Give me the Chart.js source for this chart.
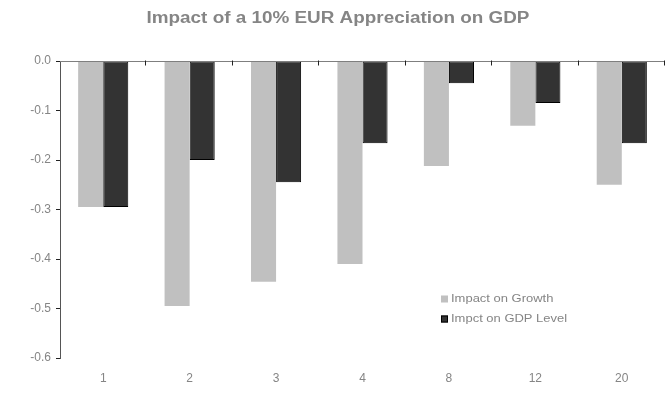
<!DOCTYPE html>
<html>
<head>
<meta charset="utf-8">
<script src="https://cdn.jsdelivr.net/npm/chart.js@4.4.1/dist/chart.umd.min.js"></script>
<style>
  html, body { margin: 0; padding: 0; background: #fff; }
  #wrap { width: 668px; height: 396px; }
</style>
</head>
<body>
<div id="wrap"><canvas id="gdpChart"></canvas></div>
<script>
// Horizonte (trimestres) y efectos estimados
const horizons = ['1', '2', '3', '4', '8', '12', '20'];
const growthImpact = [-0.295, -0.495, -0.446, -0.41, -0.212, -0.131, -0.25];
const levelImpact = [-0.295, -0.2, -0.245, -0.166, -0.045, -0.085, -0.166];
const yTicks = [0, -0.1, -0.2, -0.3, -0.4, -0.5, -0.6];
const chartTitle = 'Impact of a 10% EUR Appreciation on GDP';

const GRAY_TEXT = '#858585';
const FONT = 'Arial, "Liberation Sans", sans-serif';
const STRETCH = 1.18; // el texto original es algo más ancho

// Texto ensanchado horizontalmente
function wideText(ctx, text, x, y, align) {
    ctx.save();
    const w = ctx.measureText(text).width * STRETCH;
    let left = x;
    if (align === 'center') left = x - w / 2;
    ctx.translate(left, y);
    ctx.scale(STRETCH, 1);
    ctx.textAlign = 'left';
    ctx.fillText(text, 0, 0);
    ctx.restore();
}

// Línea del cero con marcas entre categorías (hacia abajo)
const zeroAxis = {
    id: 'zeroAxis',
    afterDatasetsDraw(chart) {
        const { ctx, chartArea, scales } = chart;
        const y0 = Math.round(scales.y.getPixelForValue(0)) + 0.5;
        ctx.save();
        ctx.strokeStyle = '#7f7f7f';
        ctx.lineWidth = 1;
        ctx.beginPath();
        ctx.moveTo(chartArea.left, y0);
        ctx.lineTo(chartArea.right, y0);
        ctx.stroke();
        const step = scales.x.width / horizons.length;
        ctx.strokeStyle = '#222';
        ctx.beginPath();
        for (let i = 1; i <= horizons.length; i++) {
            const x = Math.round(scales.x.left + i * step) - 0.5;
            ctx.moveTo(x, y0 - 1);
            ctx.lineTo(x, y0 + 4);
        }
        ctx.stroke();
        ctx.restore();
    }
};

// Título y leyenda dibujados a mano
const textLayer = {
    id: 'textLayer',
    afterDraw(chart) {
        const { ctx } = chart;
        ctx.save();
        ctx.fillStyle = GRAY_TEXT;
        ctx.textBaseline = 'middle';
        ctx.font = 'bold 16px ' + FONT;
        wideText(ctx, chartTitle, 338, 19, 'center');

        const x = 441, y = 299, gap = 20;
        ctx.font = '11px ' + FONT;
        chart.data.datasets.forEach((ds, i) => {
            const yy = y + i * gap;
            ctx.fillStyle = ds.backgroundColor;
            ctx.fillRect(x, yy - 3.5, 7, 7);
            if (ds.borderWidth) {
                ctx.strokeStyle = '#000';
                ctx.lineWidth = 1;
                ctx.strokeRect(x + 0.5, yy - 3, 6, 6);
            }
            ctx.fillStyle = GRAY_TEXT;
            wideText(ctx, ds.label, x + 10, yy, 'left');
        });
        ctx.restore();
    }
};

new Chart(document.getElementById('gdpChart'), {
    type: 'bar',
    data: {
        labels: horizons,
        datasets: [
            {
                label: 'Impact on Growth',
                data: growthImpact,
                backgroundColor: '#c0c0c0',
                borderWidth: 0
            },
            {
                label: 'Impct on GDP Level',
                data: levelImpact,
                backgroundColor: '#333333',
                borderColor: '#000',
                borderWidth: 1,
                borderSkipped: false
            }
        ]
    },
    options: {
        responsive: true,
        maintainAspectRatio: false,
        animation: false,
        layout: { padding: { top: 61, right: 3, left: 0, bottom: 0 } },
        datasets: {
            bar: { categoryPercentage: 0.58, barPercentage: 1.0 }
        },
        plugins: {
            legend: { display: false },
            tooltip: { enabled: false },
            title: { display: false }
        },
        scales: {
            x: {
                grid: { display: false },
                border: { display: false },
                ticks: {
                    color: GRAY_TEXT,
                    font: { family: FONT, size: 12 },
                    padding: 5
                },
                afterFit(scale) { scale.height = 38; }
            },
            y: {
                min: -0.6,
                max: 0,
                afterBuildTicks(scale) {
                    scale.ticks = yTicks.map(v => ({ value: v }));
                },
                grid: {
                    drawOnChartArea: false,
                    drawTicks: true,
                    tickLength: 4,
                    color: '#222'
                },
                border: { display: true, color: '#555', width: 1 },
                ticks: {
                    color: GRAY_TEXT,
                    font: { family: FONT, size: 12 },
                    padding: 5,
                    callback: v => Number(v).toFixed(1)
                },
                afterFit(scale) { scale.width = 60; }
            }
        }
    },
    plugins: [zeroAxis, textLayer]
});
</script>
</body>
</html>
